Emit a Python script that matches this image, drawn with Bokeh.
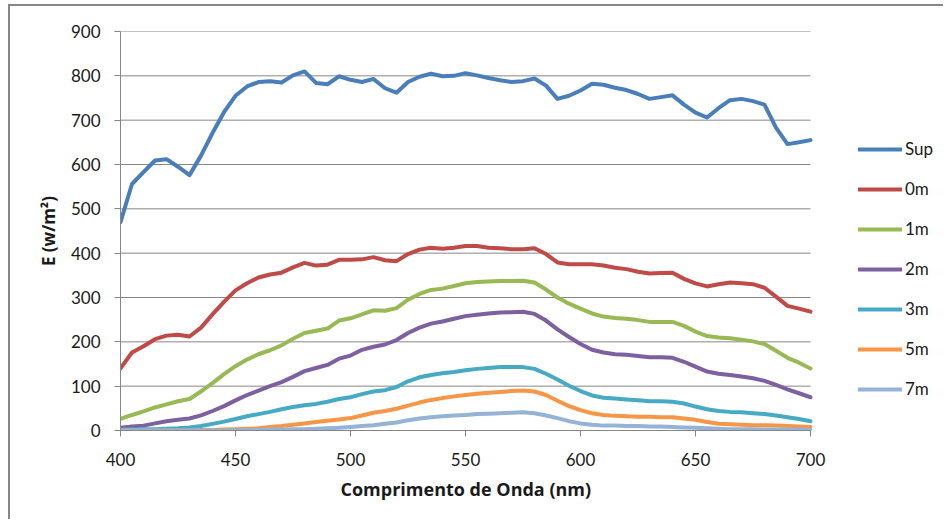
from bokeh.plotting import figure
from bokeh.models import Legend, LegendItem, FixedTicker, Range1d, Title
from bokeh.embed import file_html
from bokeh.resources import INLINE

wavelength = list(range(400, 701, 5))

sup = [470, 556, 583, 609, 612, 595, 576, 620, 671, 718, 755,
       776, 786, 788, 785, 801, 810, 784, 781, 799, 791,
       786, 793, 772, 762, 786, 798, 805, 799, 800, 806,
       801, 795, 790, 786, 788, 794, 778, 748, 755, 767,
       782, 780, 773, 768, 759, 748, 752, 756, 735, 717,
       706, 727, 745, 748, 743, 735, 683, 646, 650, 655]

m0 = [140, 176, 190, 206, 214, 216, 212, 232, 262, 290, 316,
      332, 345, 352, 356, 368, 378, 372, 374, 385, 385,
      386, 391, 384, 382, 398, 408, 412, 410, 412, 416,
      416, 412, 411, 409, 409, 411, 398, 379, 375, 375,
      375, 372, 367, 364, 358, 354, 355, 356, 342, 332,
      325, 330, 334, 332, 330, 322, 302, 281, 275, 268]

m1 = [26, 35, 43, 52, 59, 66, 71, 88, 107, 127, 145,
      160, 172, 181, 192, 207, 220, 225, 230, 248, 253,
      262, 271, 270, 276, 295, 308, 317, 320, 326, 332,
      335, 336, 337, 337, 338, 334, 318, 300, 286, 275,
      264, 257, 254, 252, 249, 245, 245, 245, 236, 223,
      213, 210, 208, 205, 201, 195, 180, 164, 153, 140]

m2 = [6, 9, 11, 16, 21, 24, 27, 34, 44, 55, 68,
      80, 90, 100, 109, 121, 134, 141, 148, 162, 169,
      182, 189, 194, 204, 220, 232, 241, 246, 252, 258,
      261, 264, 266, 267, 268, 263, 248, 228, 211, 195,
      182, 176, 172, 171, 168, 165, 165, 164, 155, 144,
      133, 128, 125, 122, 118, 112, 103, 93, 84, 75]

m3 = [2, 2, 3, 3, 4, 5, 7, 10, 15, 20, 26,
      32, 37, 42, 48, 53, 57, 60, 65, 71, 75,
      82, 88, 91, 98, 111, 120, 125, 129, 132, 136,
      139, 141, 143, 143, 143, 139, 128, 115, 101, 89,
      79, 74, 72, 70, 68, 66, 66, 65, 61, 54,
      48, 44, 42, 41, 39, 37, 34, 30, 26, 21]

m5 = [0, 0, 0, 0, 0, 0, 0, 1, 1, 2, 3,
      4, 5, 8, 10, 13, 16, 19, 22, 25, 28,
      34, 40, 44, 49, 56, 63, 69, 73, 77, 80,
      83, 85, 87, 89, 90, 88, 80, 67, 55, 46,
      39, 35, 33, 32, 31, 31, 30, 30, 27, 24,
      19, 15, 14, 13, 12, 12, 11, 10, 9, 8]

m7 = [0, 0, 0, 0, 0, 0, 0, 0, 0, 0, 0,
      1, 1, 2, 2, 3, 3, 4, 5, 6, 8,
      10, 12, 15, 18, 23, 27, 30, 32, 34, 35,
      37, 38, 39, 40, 41, 39, 34, 28, 21, 16,
      13, 11, 11, 10, 10, 9, 9, 8, 7, 6,
      5, 4, 3, 3, 3, 2, 2, 2, 2, 1]

series_names = ["Sup", "0m", "1m", "2m", "3m", "5m", "7m"]
series_values = [sup, m0, m1, m2, m3, m5, m7]
series_colors = ["#4A7EBB", "#BE4B48", "#98B954", "#7D60A0", "#46AAC5", "#F79646", "#95B3D7"]

x_ticks = [400, 450, 500, 550, 600, 650, 700]
y_ticks = [0, 100, 200, 300, 400, 500, 600, 700, 800, 900]
x_min, x_max = 400, 700

FONT = "Lato"
TITLE_FONT = "Open Sans"
GRAY = "#878787"
TXT = "#1a1a1a"

# frame extends to the right so that the legend lies inside it (2.3 px per nm)
x_end = x_min + 825 / 2.3

p = figure(width=935, height=515, x_range=Range1d(x_min, x_end), y_range=Range1d(0, 900),
           output_backend="svg", toolbar_location=None,
           min_border_left=110, min_border_right=0, min_border_top=25, min_border_bottom=91)
p.styles = {"margin-left": "8px", "margin-top": "4px",
            "border-top": "2px solid #878787", "border-left": "2px solid #878787"}

p.outline_line_color = None
p.background_fill_color = "white"
p.border_fill_color = "white"

p.xgrid.grid_line_color = None
p.ygrid.grid_line_color = None

# horizontal gridlines only over the data range
p.segment(x0=[x_min] * len(y_ticks), x1=[x_max] * len(y_ticks), y0=y_ticks, y1=y_ticks,
          line_color=GRAY, line_width=1)

p.xaxis.ticker = FixedTicker(ticks=x_ticks)
p.yaxis.ticker = FixedTicker(ticks=y_ticks)
p.xaxis.bounds = (x_min, x_max)
for ax in (p.xaxis[0], p.yaxis[0]):
    ax.axis_line_color = GRAY
    ax.major_tick_line_color = GRAY
    ax.major_tick_in = 0
    ax.major_tick_out = 6
    ax.minor_tick_line_color = None
    ax.major_label_text_font = FONT
    ax.major_label_text_font_size = "17px"
    ax.major_label_text_color = TXT
    ax.axis_label_text_font = TITLE_FONT
    ax.axis_label_text_font_size = "17px"
    ax.axis_label_text_font_style = "bold"
    ax.axis_label_text_color = TXT

p.yaxis.axis_label = "E (w/m²)"
p.xaxis.major_label_standoff = 16
p.yaxis.major_label_standoff = 14
p.yaxis.axis_label_standoff = 8

# x-axis title placed under the 400-700 span (frame is wider because of the legend)
x_title = Title(text="Comprimento de Onda (nm)", align="left", offset=220,
                text_font=TITLE_FONT, text_font_size="18px", text_font_style="bold",
                text_color=TXT, standoff=12)
p.add_layout(x_title, "below")

items = []
for name, vals, col in zip(series_names, series_values, series_colors):
    r = p.line(wavelength, vals, line_color=col, line_width=4,
               line_join="round", line_cap="round")
    items.append(LegendItem(label=name, renderers=[r]))

legend = Legend(items=items, location=(738, 31), padding=0, margin=0, spacing=19,
                glyph_width=44, glyph_height=20, label_height=20, label_standoff=3,
                label_text_font=FONT, label_text_font_size="17px", label_text_color=TXT,
                border_line_color=None, background_fill_alpha=0)
p.add_layout(legend)

open("out.html", "w").write(file_html(p, INLINE))
